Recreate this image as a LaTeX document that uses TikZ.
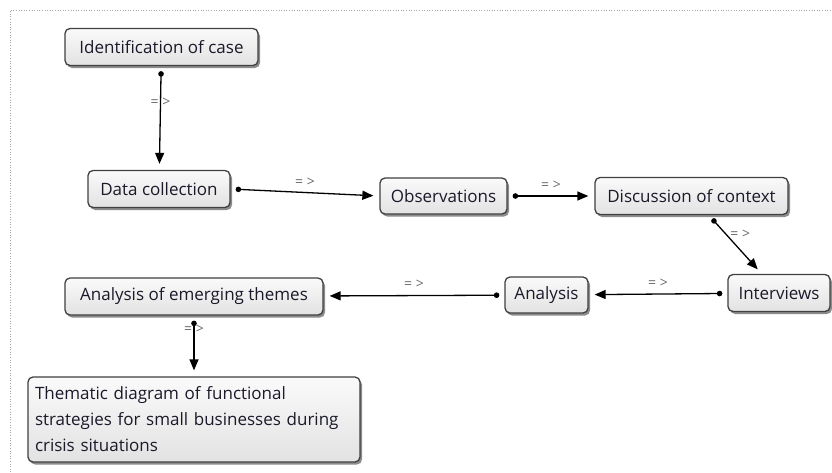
\documentclass[tikz,border=0pt]{standalone}
\usepackage{fontspec}
\setmainfont{Open Sans}
\usetikzlibrary{arrows.meta,shadows,positioning}
\definecolor{boxborder}{HTML}{404040}
\definecolor{boxtop}{HTML}{FAFAFA}
\definecolor{boxbot}{HTML}{E2E2E2}
\definecolor{lblgray}{HTML}{6A6A6A}
\definecolor{txtcol}{HTML}{1A1A2A}
\tikzset{
  box/.style={draw=boxborder, line width=1.3pt, rounded corners=5pt,
    top color=boxtop, bottom color=boxbot, text=txtcol,
    font=\fontsize{17}{20}\selectfont, minimum height=37pt, inner xsep=6pt,
    drop shadow={shadow xshift=2pt, shadow yshift=-2.5pt, fill=black, opacity=0.45}},
  conn/.style={line width=1.3pt, {Circle[length=5.5pt]}-{Triangle[length=11pt,width=9pt]},
    shorten <=5pt, shorten >=6pt},
  lbl/.style={text=lblgray, font=\fontsize{14}{15}\selectfont, inner sep=1pt}
}
\begin{document}
\begin{tikzpicture}[x=1pt,y=-1pt]
\useasboundingbox (0,0) rectangle (832,472);
\fill[white] (0,0) rectangle (832,472);
\draw[gray!70, dotted, line width=0.6pt] (10,472) -- (10,10) -- (832,10);

\node[box, minimum width=193pt] (n1) at (161.5,47) {Identification of case};
\node[box, minimum width=142pt] (n2) at (159,189) {Data collection};
\node[box, minimum width=127pt, minimum height=36pt] (n3) at (443.5,196) {Observations};
\node[box, minimum width=193pt] (n4) at (691.5,196) {Discussion of context};
\node[box, minimum width=102pt] (n5) at (779,293) {Interviews};
\node[box, minimum width=83pt, minimum height=36pt] (n6) at (546.5,295) {Analysis};
\node[box, minimum width=258pt] (n7) at (194,296.5) {Analysis of emerging themes};
\node[box, minimum width=332pt, minimum height=85pt, align=left, text width=318pt,
      font=\fontsize{17}{26}\selectfont] (n8) at (194,419.5)
  {Thematic diagram of functional\\strategies for small businesses during\\crisis situations};

\draw[conn] (n1) -- (n2) node[lbl, pos=0.35] (l1) {= >};
\draw[conn] (n2.east) -- (n3.west) node[lbl, midway, above=4pt] (l2) {= >};
\draw[conn] (n3) -- (n4) node[lbl, midway, above=5pt] (l3) {= >};
\draw[conn] (n4) -- (n5) node[lbl, pos=0.32, right=3pt] (l4) {= >};
\draw[conn] (n5) -- (n6) node[lbl, midway, above=5pt] (l5) {= >};
\draw[conn] (n6) -- (n7) node[lbl, midway, above=5pt] (l6) {= >};
\draw[conn] (n7) -- (n8) node[lbl, pos=0.22] (l7) {= >};
\end{tikzpicture}
\end{document}
